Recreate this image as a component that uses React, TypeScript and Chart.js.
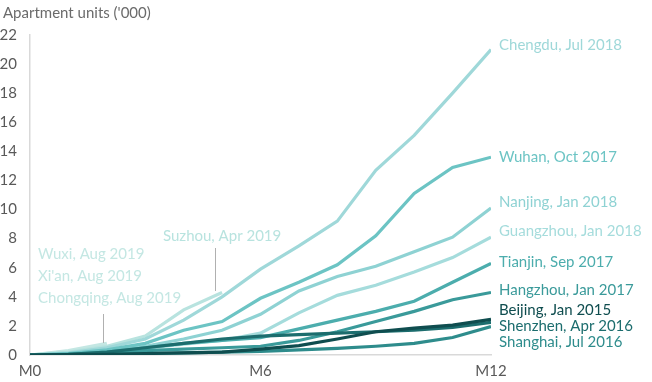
import React, { useEffect, useRef } from "react";
import { Chart, registerables } from "chart.js";

Chart.register(...registerables);

const months = [0, 1, 2, 3, 4, 5, 6, 7, 8, 9, 10, 11, 12];
const xTickLabels = ["M0", "M6", "M12"];
const yTitle = "Apartment units ('000)";

const cities = [
  "Beijing, Jan 2015",
  "Shenzhen, Apr 2016",
  "Shanghai, Jul 2016",
  "Hangzhou, Jan 2017",
  "Tianjin, Sep 2017",
  "Wuhan, Oct 2017",
  "Nanjing, Jan 2018",
  "Guangzhou, Jan 2018",
  "Chengdu, Jul 2018",
  "Suzhou, Apr 2019",
  "Wuxi, Aug 2019",
  "Xi'an, Aug 2019",
  "Chongqing, Aug 2019",
];

const beijing = [0, 0.02, 0.05, 0.1, 0.15, 0.2, 0.4, 0.65, 1.1, 1.6, 1.85, 2.05, 2.45];
const shenzhen = [0, 0.05, 0.2, 0.5, 0.8, 1.1, 1.3, 1.4, 1.5, 1.6, 1.7, 1.9, 2.25];
const shanghai = [0, 0.02, 0.05, 0.1, 0.15, 0.2, 0.25, 0.35, 0.45, 0.6, 0.8, 1.2, 1.95];
const hangzhou = [0, 0.05, 0.15, 0.3, 0.4, 0.5, 0.6, 1.0, 1.6, 2.3, 3.0, 3.8, 4.3];
const tianjin = [0, 0.05, 0.2, 0.5, 0.8, 1.0, 1.2, 1.8, 2.4, 3.0, 3.7, 5.0, 6.3];
const wuhan = [0, 0.1, 0.35, 0.8, 1.7, 2.3, 3.9, 5.0, 6.2, 8.2, 11.1, 12.9, 13.6];
const nanjing = [0, 0.1, 0.25, 0.6, 1.1, 1.7, 2.8, 4.4, 5.4, 6.1, 7.1, 8.1, 10.1];
const guangzhou = [0, 0.05, 0.2, 0.45, 0.75, 1.0, 1.5, 2.9, 4.1, 4.8, 5.7, 6.7, 8.1];
const chengdu = [0, 0.15, 0.5, 1.1, 2.4, 4.0, 5.9, 7.5, 9.2, 12.7, 15.1, 18.0, 21.0];
const suzhou = [0, 0.2, 0.6, 1.3, 3.1, 4.3];
const wuxi = [0, 0.3, 0.8];
const xian = [0, 0.25, 0.7];
const chongqing = [0, 0.2, 0.6];

const seriesValues = [
  beijing, shenzhen, shanghai, hangzhou, tianjin, wuhan, nanjing,
  guangzhou, chengdu, suzhou, wuxi, xian, chongqing,
];

const colors = [
  "#0f4d4f", "#1c6d6e", "#2e8c8c", "#3a9a9a", "#4cadad", "#6cc4c4", "#8ed2d3",
  "#a5dcdc", "#9fd8d9", "#b8e3df", "#c4e7e3", "#c4e7e3", "#c4e7e3",
];

// right-hand label placement (pixel y centres) and left annotation layout
const rightLabelY = [310, 326, 342, 290, 262, 157, 202, 231, 45];
const leftLabels = [
  { idx: 10, x: 38, y: 254 },
  { idx: 11, x: 38, y: 276 },
  { idx: 12, x: 38, y: 298 },
  { idx: 9, x: 163, y: 236 },
];
const pointers = [
  { x: 103, y1: 314, y2: 343 },
  { x: 215, y1: 248, y2: 291 },
];

const FONT = "Lato, 'Open Sans', sans-serif";

const labelPlugin = {
  id: "labels",
  afterDraw(chart: any) {
    const ctx = chart.ctx;
    const area = chart.chartArea;
    ctx.save();
    ctx.font = `15px ${FONT}`;
    ctx.textBaseline = "middle";
    ctx.textAlign = "left";
    ctx.fillStyle = "#6b6b6b";
    ctx.fillText(yTitle, 3, 13);
    for (let i = 0; i < rightLabelY.length; i++) {
      ctx.fillStyle = colors[i];
      ctx.fillText(cities[i], area.right + 8, rightLabelY[i]);
    }
    for (const l of leftLabels) {
      ctx.fillStyle = colors[l.idx];
      ctx.fillText(cities[l.idx], l.x, l.y);
    }
    ctx.strokeStyle = "#b0b0b0";
    ctx.lineWidth = 1;
    for (const p of pointers) {
      ctx.beginPath();
      ctx.moveTo(p.x + 0.5, p.y1);
      ctx.lineTo(p.x + 0.5, p.y2);
      ctx.stroke();
    }
    ctx.restore();
  },
};

export default function App() {
  const ref = useRef<HTMLCanvasElement>(null);
  useEffect(() => {
    const chart = new Chart(ref.current!, {
      type: "line",
      data: {
        datasets: seriesValues.map((vals, i) => ({
          label: cities[i],
          data: vals.map((v, j) => ({ x: months[j], y: v })),
          borderColor: colors[i],
          borderWidth: 3.2,
          pointRadius: 0,
          tension: 0,
          fill: false,
        })),
      },
      options: {
        animation: false,
        responsive: false,
        maintainAspectRatio: false,
        layout: { padding: { top: 35, right: 161, left: 0, bottom: 0 } },
        plugins: { legend: { display: false }, tooltip: { enabled: false }, title: { display: false } },
        scales: {
          x: {
            type: "linear",
            min: 0,
            max: 12,
            afterBuildTicks: (s: any) => {
              s.ticks = [0, 6, 12].map((v) => ({ value: v }));
            },
            afterFit: (s: any) => {
              s.height = 27;
            },
            ticks: {
              callback: (v: any) => xTickLabels[[0, 6, 12].indexOf(Number(v))],
              color: "#595959",
              font: { family: FONT, size: 15 },
              padding: 7,
              maxRotation: 0,
            },
            grid: { display: false, drawTicks: false },
            border: { display: true, color: "#d9d9d9", width: 1.5 },
          },
          y: {
            min: 0,
            max: 22,
            afterFit: (s: any) => {
              s.width = 30;
            },
            ticks: {
              stepSize: 2,
              color: "#595959",
              font: { family: FONT, size: 15 },
              padding: 13,
            },
            grid: { display: false, drawTicks: false },
            border: { display: true, color: "#d9d9d9", width: 1.5 },
          },
        },
      },
      plugins: [labelPlugin],
    });
    return () => chart.destroy();
  }, []);
  return (
    <div style={{ position: "fixed", left: 0, top: 0, width: 652, height: 382, background: "#fff" }}>
      <canvas ref={ref} width={652} height={382} style={{ width: 652, height: 382 }} />
    </div>
  );
}
